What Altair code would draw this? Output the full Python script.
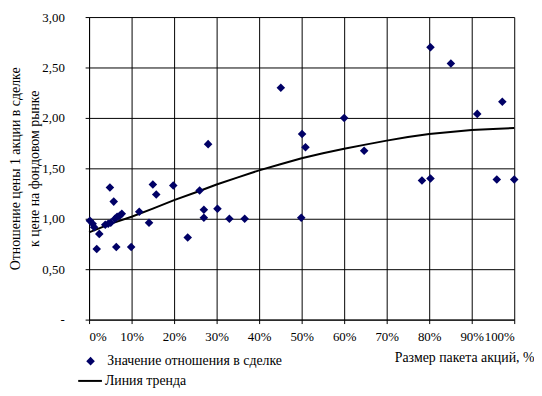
import altair as alt
import pandas as pd

# Scatter points: share size (%) and price ratio
share_pct = [0.2, 0.85, 1.2, 1.8, 2.4, 3.8, 4.5, 5.1, 4.9, 5.8, 6.1, 6.6, 6.4, 7.2, 7.7,
             9.9, 11.8, 14.1, 15.0, 15.8, 19.8, 23.2, 26.0, 27.0, 27.0, 28.0, 30.2,
             33.0, 36.6, 45.1, 49.9, 50.1, 50.9, 60.0, 64.7, 78.3, 80.3, 80.3, 85.1,
             91.3, 95.9, 97.2, 100.0]
ratio = [0.98, 0.95, 0.915, 0.70, 0.85, 0.94, 0.95, 0.96, 1.31, 1.17, 1.00, 1.02, 0.72,
         1.03, 1.05, 0.72, 1.07, 0.96, 1.34, 1.24, 1.33, 0.815, 1.28, 1.09, 1.01, 1.74,
         1.10, 1.00, 1.00, 2.30, 1.01, 1.84, 1.71, 2.00, 1.675, 1.38, 1.40, 2.70, 2.54,
         2.04, 1.39, 2.16, 1.39]

# Trend line
trend_x = [0, 5, 10, 15, 20, 25, 30, 35, 40, 45, 50, 55, 60, 65, 70, 75, 80, 85, 90, 95, 100]
trend_y = [0.865, 0.95, 1.02, 1.10, 1.185, 1.26, 1.34, 1.41, 1.48, 1.54, 1.60, 1.65,
           1.695, 1.735, 1.775, 1.81, 1.84, 1.86, 1.88, 1.89, 1.90]

x_ticks = [0, 10, 20, 30, 40, 50, 60, 70, 80, 90, 100]
y_ticks = [0, 0.5, 1.0, 1.5, 2.0, 2.5, 3.0]

pt_name = "Значение отношения в сделке"
tr_name = "Линия тренда"
x_title = "Размер пакета акций, %"
y_title = ["Отношение цены 1 акции в сделке", "к цене на фондовом рынке"]

FONT = "Liberation Serif"
NAVY = "#000066"

pts = pd.DataFrame({"x": share_pct, "y": ratio, "s": pt_name})
trend = pd.DataFrame({"x": trend_x, "y": trend_y, "s": tr_name})

x_enc = alt.X("x:Q", scale=alt.Scale(domain=[0, 100], nice=False),
              axis=alt.Axis(values=x_ticks, labelExpr="datum.value + '%'", labelPadding=7,
                            labelOverlap=False,
                            title=x_title, titleX=450, titleY=38, titleAlign="right",
                            titleBaseline="middle", titleAnchor="end"))
y_enc = alt.Y("y:Q", scale=alt.Scale(domain=[0, 3], nice=False),
              axis=alt.Axis(values=y_ticks,
                            labelExpr="datum.value == 0 ? '-' : replace(format(datum.value, '.2f'), '.', ',')",
                            labelPadding=21, labelOverlap=False,
                            title=y_title, titleAngle=270, titleX=-74, titleY=153,
                            titleAlign="center", titleBaseline="middle", titleLineHeight=19))

points = alt.Chart(pts).mark_point(filled=True, shape="diamond", size=75, opacity=1).encode(
    x=x_enc, y=y_enc,
    fill=alt.Fill("s:N", scale=alt.Scale(domain=[pt_name], range=[NAVY]),
                  legend=alt.Legend(orient="none", legendX=-5.5, legendY=341, title=None,
                                    symbolType="diamond", symbolSize=75, labelOffset=10,
                                    labelFont=FONT, labelFontSize=14, labelColor="black",
                                    labelLimit=400, padding=0, symbolStrokeWidth=0))
)

line = alt.Chart(trend).mark_line(strokeWidth=2).encode(
    x="x:Q", y="y:Q",
    stroke=alt.Stroke("s:N", scale=alt.Scale(domain=[tr_name], range=["black"]),
                      legend=alt.Legend(orient="none", legendX=-12, legendY=355, title=None,
                                        symbolType="stroke", symbolSize=576, symbolStrokeWidth=2,
                                        labelOffset=2, labelFont=FONT, labelFontSize=14,
                                        labelColor="black", labelLimit=400, padding=0))
)

chart = alt.layer(line, points).properties(
    width=430, height=306,
    autosize=alt.AutoSizeParams(type="none"),
    padding={"left": 82, "top": 7, "right": 20, "bottom": 67},
    background="white",
).configure(font=FONT).configure_axis(
    domainColor="black", tickColor="black", gridColor="black", gridOpacity=1,
    gridWidth=1, domainWidth=1, tickWidth=1, tickSize=4,
    labelFont=FONT, labelFontSize=13, labelColor="black",
    titleFont=FONT, titleFontSize=14, titleFontWeight="normal", titleColor="black",
).configure_view(strokeWidth=0)

chart.save("out.html", embed_options={"renderer": "svg", "actions": False})
